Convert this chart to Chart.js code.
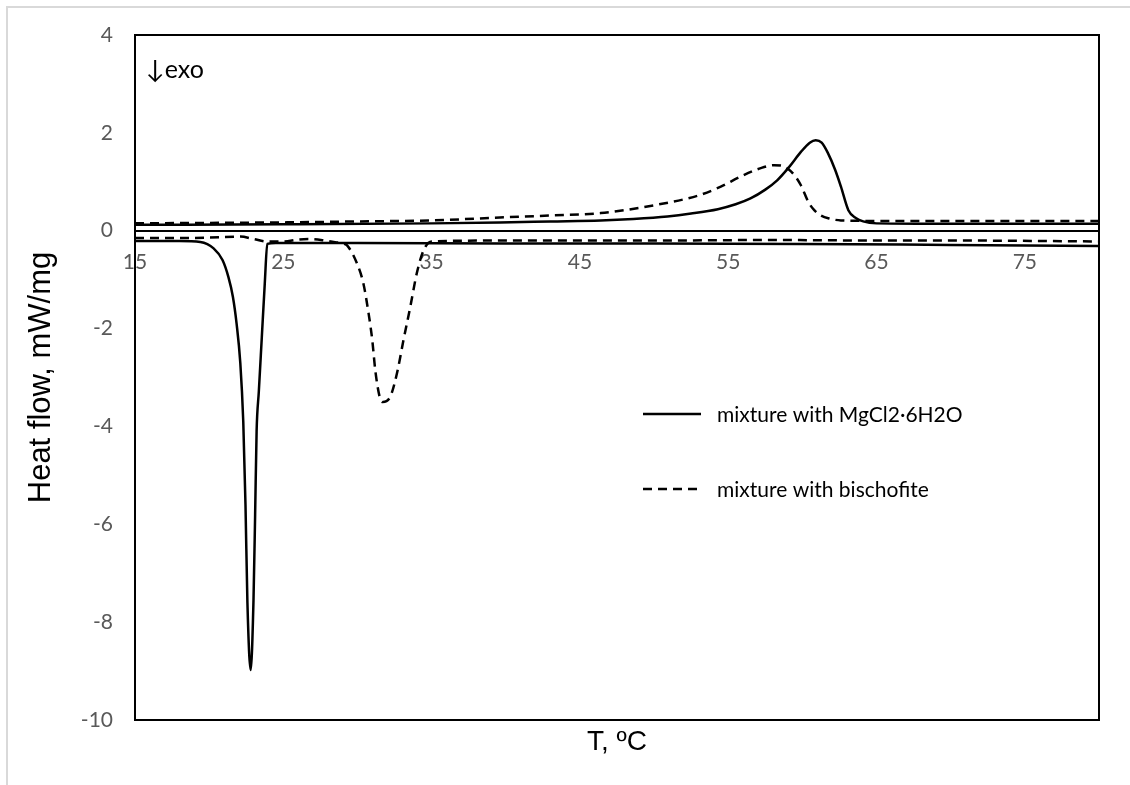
<!DOCTYPE html>
<html>
<head>
<meta charset="utf-8">
<script src="https://cdn.jsdelivr.net/npm/chart.js@4"></script>
<style>
	html, body { margin: 0; padding: 0; background: #fff; }
</style>
</head>
<body>
<canvas id="chart" width="1130" height="785"></canvas>
<script>
// DSC curves, T in degC, heat flow in mW/mg
var tempMgHeat = [15, 25, 35, 39.6, 43, 46.4, 48.6, 50.9, 52.5, 54.3, 55.5, 56.5, 57.5, 58.3, 59.1, 59.9, 60.5, 60.9, 61.3, 61.7, 62.2, 62.6, 63.1, 63.6, 64.1, 65, 70, 80];
var flowMgHeat = [0.12, 0.13, 0.15, 0.17, 0.19, 0.21, 0.24, 0.29, 0.35, 0.44, 0.54, 0.66, 0.84, 1.03, 1.3, 1.61, 1.8, 1.85, 1.8, 1.6, 1.25, 0.9, 0.42, 0.26, 0.19, 0.15, 0.14, 0.14];

var tempMgCool = [15, 18, 19.4, 20.3, 20.9, 21.3, 21.6, 21.85, 22.1, 22.3, 22.45, 22.58, 22.8, 22.99, 23.1, 23.2, 23.35, 23.55, 23.75, 23.92, 24.5, 30, 40, 50, 60, 70, 80];
var flowMgCool = [-0.21, -0.21, -0.23, -0.36, -0.6, -0.95, -1.35, -1.9, -2.7, -3.9, -5.6, -7.6, -8.98, -7.55, -5.8, -4.1, -3.28, -2.18, -1.08, -0.27, -0.25, -0.25, -0.26, -0.26, -0.27, -0.29, -0.31];

var tempBisHeat = [15, 20, 25, 30, 35, 39.6, 43, 46.4, 48, 50, 52, 53.1, 54.5, 55.8, 57.2, 58.1, 58.6, 59.0, 59.5, 59.9, 60.4, 60.8, 61.2, 61.8, 62.6, 65, 70, 80];
var flowBisHeat = [0.15, 0.16, 0.17, 0.19, 0.21, 0.27, 0.31, 0.36, 0.42, 0.52, 0.64, 0.73, 0.9, 1.1, 1.28, 1.34, 1.33, 1.27, 1.12, 0.93, 0.59, 0.42, 0.32, 0.25, 0.21, 0.2, 0.2, 0.2];

var tempBisCool = [15, 18, 20, 22.1, 23, 23.9, 25, 26, 26.8, 27.8, 28.4, 29.0, 29.3, 29.97, 30.4, 30.75, 31.0, 31.2, 31.5, 31.7, 32.2, 32.66, 33.1, 33.56, 34.0, 34.46, 35, 40, 50, 58, 65, 70, 80];
var flowBisCool = [-0.15, -0.15, -0.14, -0.12, -0.17, -0.22, -0.22, -0.18, -0.17, -0.2, -0.23, -0.26, -0.3, -0.67, -1.08, -1.69, -2.24, -2.85, -3.4, -3.5, -3.4, -2.92, -2.24, -1.56, -0.87, -0.4, -0.22, -0.2, -0.2, -0.19, -0.2, -0.2, -0.22];

var xTicks = [15, 25, 35, 45, 55, 65, 75];
var legendLabels = ['mixture with MgCl2\u00b76H2O', 'mixture with bischofite'];

var tickFont = { family: 'Lato', size: 21 };
var tickColor = '#595959';
var dash = [9, 6];

function pts(xs, ys) {
	return xs.map(function (x, i) { return { x: x, y: ys[i] }; });
}

function line(data, dashed) {
	return {
		data: data,
		borderColor: '#000',
		borderWidth: 2.5,
		borderDash: dashed ? dash : [],
		pointRadius: 0,
		fill: false,
		cubicInterpolationMode: 'monotone'
	};
}

// frame, grey outer border, legend and the exo note
var decor = {
	id: 'decor',
	afterDraw: function (chart) {
		var ctx = chart.ctx;
		var a = chart.chartArea;
		ctx.save();

		ctx.strokeStyle = '#d9d9d9';
		ctx.lineWidth = 2;
		ctx.beginPath();
		ctx.moveTo(7, 790);
		ctx.lineTo(7, 7);
		ctx.lineTo(1135, 7);
		ctx.stroke();

		ctx.strokeStyle = '#000';
		ctx.lineWidth = 2;
		ctx.strokeRect(a.left, a.top, a.right - a.left, a.bottom - a.top);

		// legend
		ctx.lineWidth = 2.5;
		ctx.font = '21px Lato';
		ctx.fillStyle = '#000';
		ctx.textBaseline = 'middle';
		var rows = [a.top + 379, a.top + 454];
		rows.forEach(function (y, i) {
			ctx.setLineDash(i === 1 ? dash : []);
			ctx.beginPath();
			ctx.moveTo(a.left + 508, y);
			ctx.lineTo(a.left + 566, y);
			ctx.stroke();
			ctx.setLineDash([]);
			ctx.fillText(legendLabels[i], a.left + 582, y + 1);
		});

		ctx.font = '25px Lato, "DejaVu Sans"';
		ctx.textBaseline = 'alphabetic';
		ctx.fillText('\u2193exo', a.left + 11, a.top + 43);
		ctx.restore();
	}
};

var ctx = document.getElementById('chart').getContext('2d');
var chart = new Chart(ctx, {
	type: 'line',
	data: {
		datasets: [
			line(pts(tempMgHeat, flowMgHeat), false),
			line(pts(tempMgCool, flowMgCool), false),
			line(pts(tempBisHeat, flowBisHeat), true),
			line(pts(tempBisCool, flowBisCool), true)
		]
	},
	options: {
		responsive: false,
		animation: false,
		layout: { padding: { left: 0, top: 35, right: 31, bottom: 0 } },
		plugins: {
			legend: { display: false },
			tooltip: { enabled: false }
		},
		scales: {
			x: {
				type: 'linear',
				min: 15,
				max: 80,
				position: { y: 0 },
				afterBuildTicks: function (scale) {
					scale.ticks = xTicks.map(function (v) { return { value: v }; });
				},
				grid: { display: false, drawTicks: false },
				border: { display: true, color: '#000', width: 2 },
				ticks: { color: tickColor, font: tickFont, padding: 19, maxRotation: 0 }
			},
			xb: {
				type: 'linear',
				position: 'bottom',
				min: 15,
				max: 80,
				grid: { display: false, drawTicks: false },
				border: { display: false },
				ticks: { display: false },
				title: {
					display: true,
					text: 'T, \u00baC',
					color: '#000',
					font: { family: 'Liberation Sans', size: 28 },
					padding: { top: 0, bottom: 26 }
				},
				afterFit: function (scale) { scale.height = 65; }
			},
			y: {
				min: -10,
				max: 4,
				ticks: { stepSize: 2, color: tickColor, font: tickFont, padding: 22 },
				grid: { display: false, drawTicks: false },
				border: { display: false },
				title: {
					display: true,
					text: 'Heat flow, mW/mg',
					color: '#000',
					font: { family: 'Liberation Sans', size: 31 },
					padding: { top: 23, bottom: 0 }
				},
				afterFit: function (scale) { scale.width = 135; }
			}
		}
	},
	plugins: [decor]
});
</script>
</body>
</html>
